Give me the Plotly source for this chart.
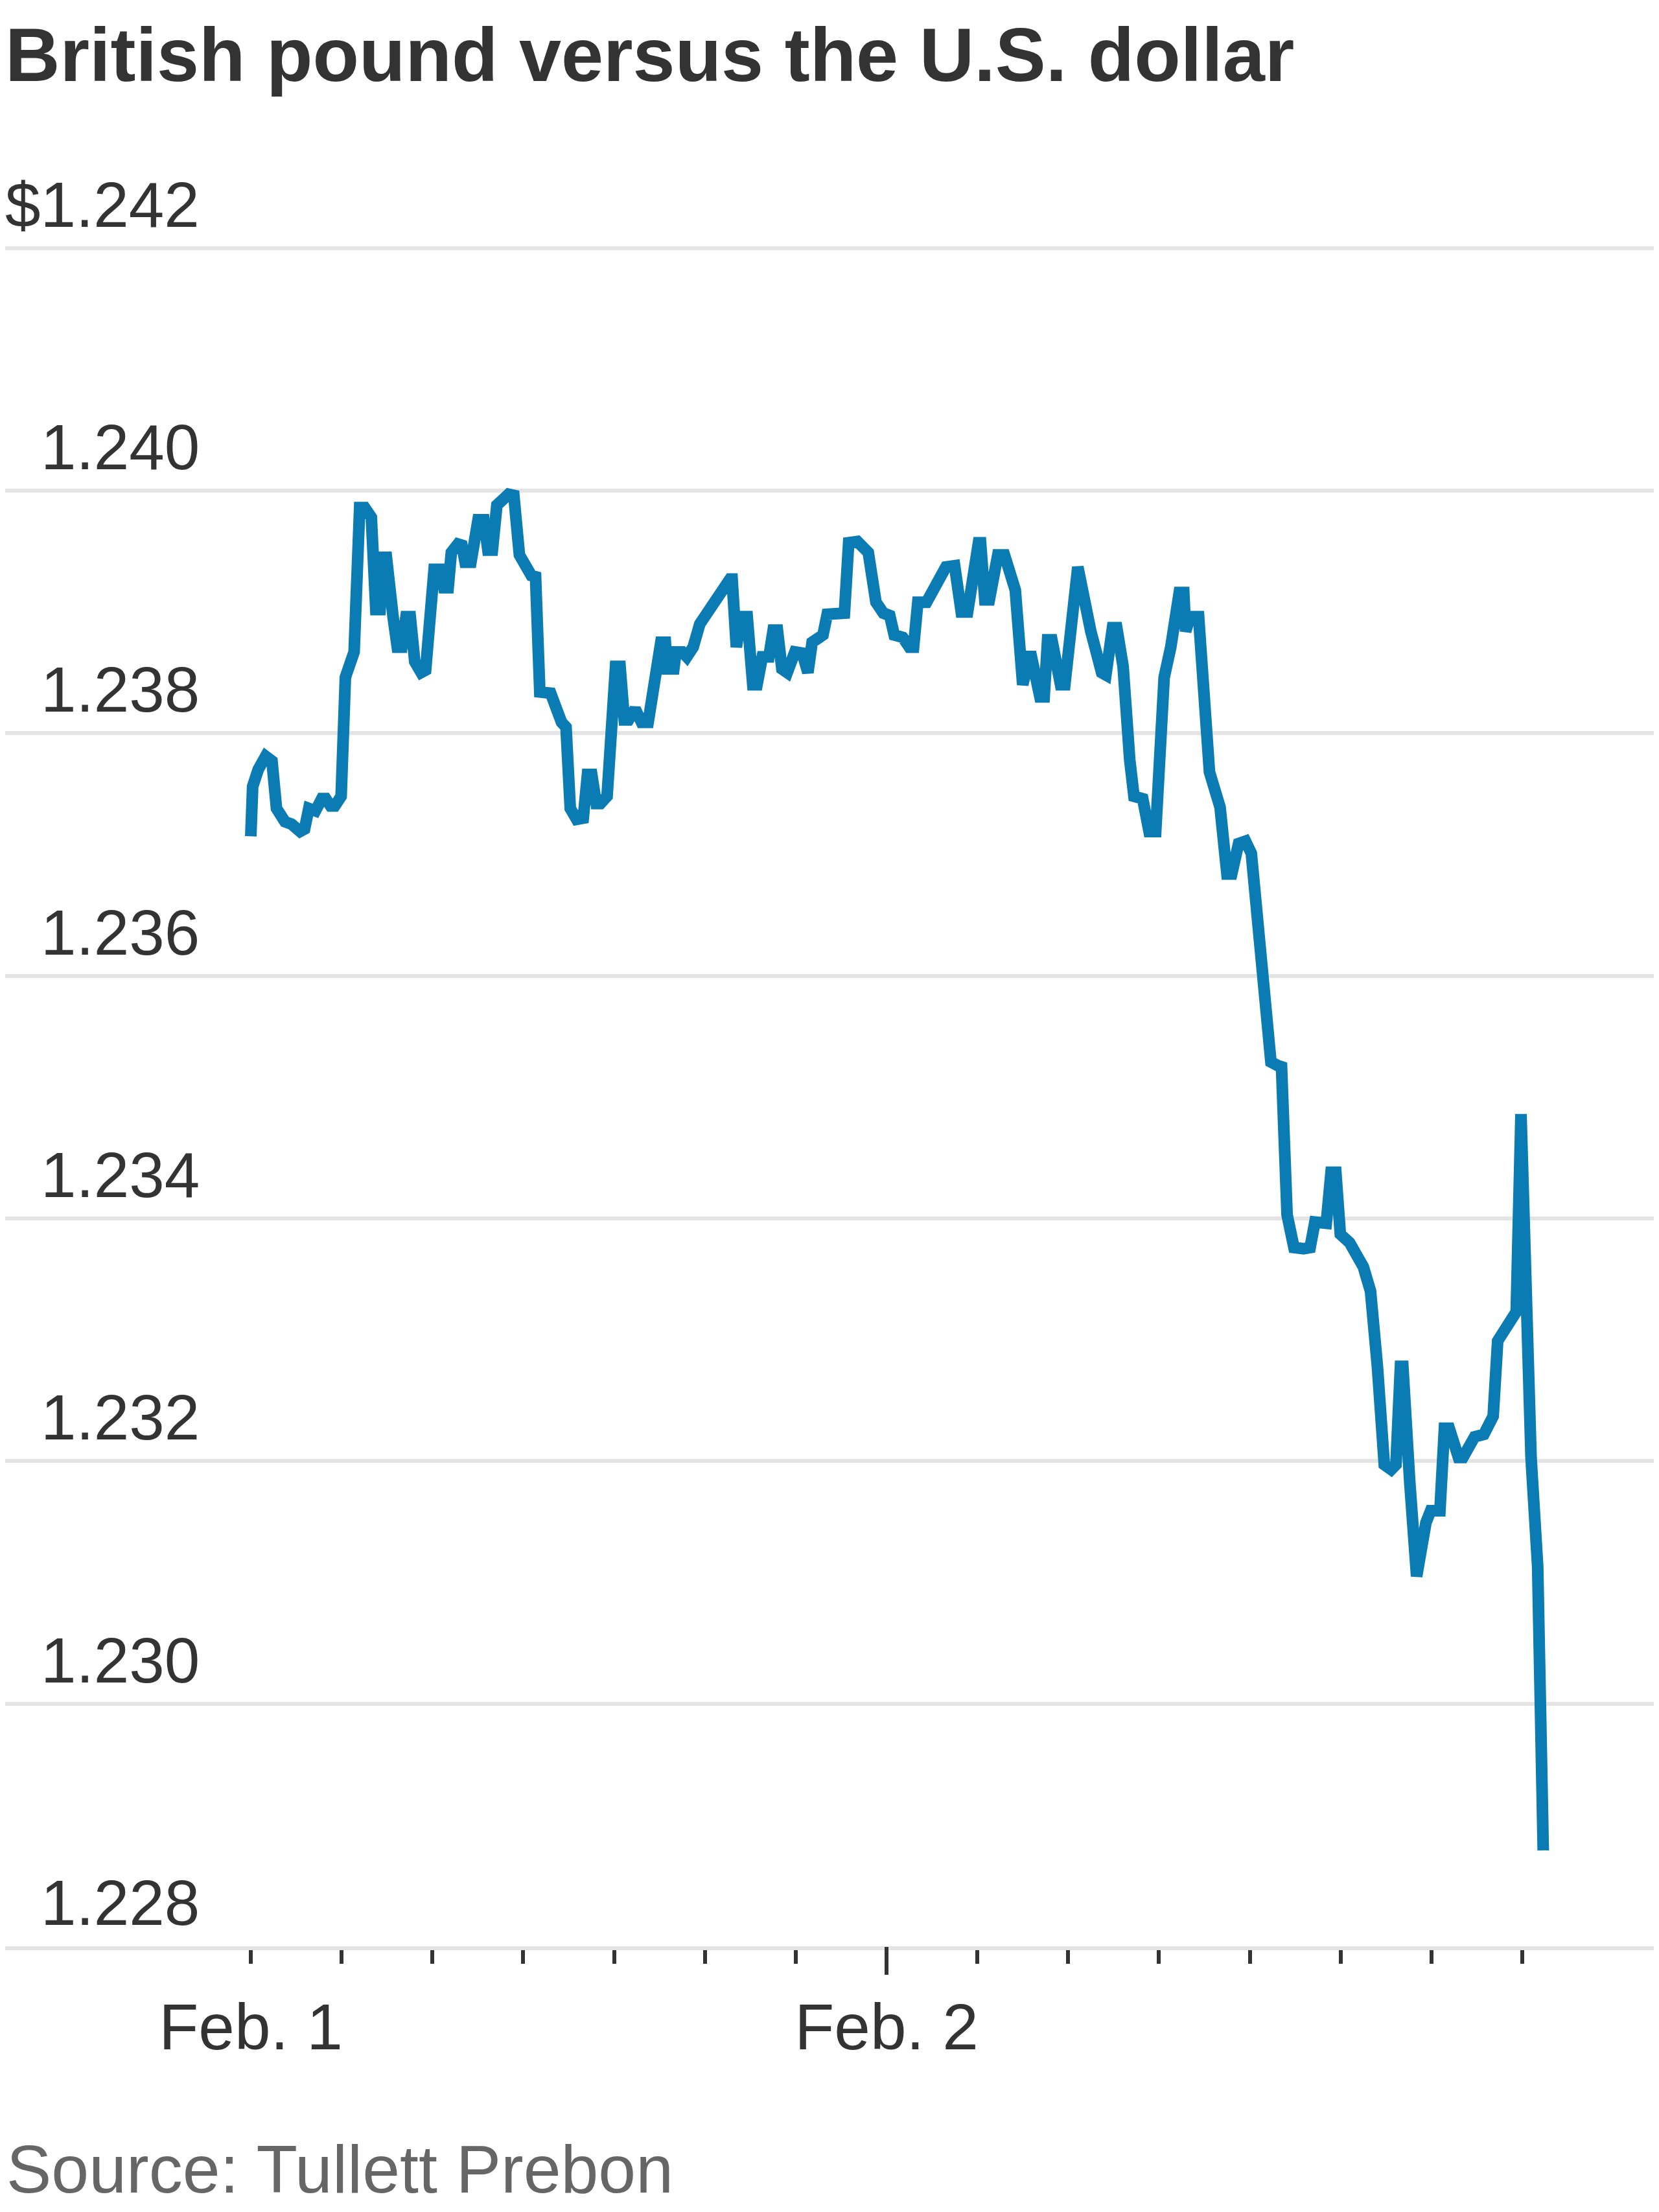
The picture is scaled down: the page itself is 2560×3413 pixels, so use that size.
import plotly.graph_objects as go

# Hours since Feb. 1, 00:00 (x) and GBP/USD rate (y)
hours = [0.00, 0.07, 0.28, 0.56, 0.80, 0.97, 1.29, 1.54, 1.86, 2.03,
         2.19, 2.44, 2.68, 2.83, 3.01, 3.17, 3.41, 3.57, 3.90, 4.11,
         4.30, 4.55, 4.72, 4.88, 4.96, 5.12, 5.37, 5.53, 5.70, 5.86,
         6.02, 6.19, 6.43, 6.60, 6.92, 7.17, 7.29, 7.45, 7.57, 7.82,
         7.97, 8.09, 8.31, 8.58, 8.80, 8.95, 9.12, 9.29, 9.49, 9.73,
         9.93, 10.14, 10.59, 10.75, 10.91, 11.16, 11.32, 11.73, 11.90, 12.06,
         12.30, 12.55, 12.71, 12.87, 13.04, 13.20, 13.45, 13.77, 13.94, 14.10,
         14.26, 14.51, 14.75, 15.00, 15.48, 15.65, 15.72, 15.97, 16.05, 16.29,
         16.46, 16.70, 16.95, 18.09, 18.17, 18.33, 18.50, 18.74, 18.95, 19.11,
         19.31, 19.56, 19.72, 19.88, 20.05, 20.25, 20.54, 20.82, 21.03, 21.19,
         21.48, 21.60, 21.76, 22.17, 22.41, 22.57, 22.90, 23.31, 23.60, 23.88,
         24.12, 24.29, 24.61, 24.86, 25.02, 25.18, 25.51, 26.24, 26.57, 26.82,
         27.06, 27.47, 27.55, 27.71, 27.88, 28.20, 28.45, 28.86, 29.14, 29.43,
         29.79, 29.95, 30.08, 30.24, 30.57, 30.73, 31.14, 31.22, 31.71, 32.12,
         32.28, 32.53, 32.69, 32.93, 33.18, 33.34, 33.67, 33.91, 34.16, 34.48,
         34.73, 35.05, 35.22, 35.29, 35.46, 35.78, 36.19, 36.59, 36.85, 37.03,
         37.29, 37.55, 37.77, 38.16, 38.51, 38.77, 38.91, 39.12, 39.38, 39.74,
         39.99, 40.17, 40.43, 40.60, 40.78, 40.96, 41.13, 41.48, 42.00, 42.27,
         42.53, 42.79, 43.05, 43.23, 43.40, 43.49, 43.75, 44.01, 44.36, 44.54,
         44.89, 45.06, 45.24, 45.59, 45.76, 46.20, 46.55, 46.90, 47.07, 47.42,
         47.77, 47.95, 48.33, 48.58, 48.79]

rate = [1.23715, 1.23756, 1.23770, 1.23781, 1.23777, 1.23738, 1.23727, 1.23725, 1.23719, 1.23721,
        1.23738, 1.23736, 1.23746, 1.23746, 1.23740, 1.23740, 1.23748, 1.23846, 1.23867, 1.23986,
        1.23986, 1.23978, 1.23902, 1.23902, 1.23945, 1.23945, 1.23896, 1.23871, 1.23871, 1.23896,
        1.23896, 1.23859, 1.23850, 1.23852, 1.23935, 1.23935, 1.23920, 1.23920, 1.23949, 1.23956,
        1.23955, 1.23941, 1.23941, 1.23976, 1.23976, 1.23951, 1.23951, 1.23988, 1.23992, 1.23997,
        1.23996, 1.23947, 1.23930, 1.23929, 1.23834, 1.23833, 1.23833, 1.23809, 1.23805, 1.23738,
        1.23729, 1.23730, 1.23766, 1.23766, 1.23742, 1.23742, 1.23748, 1.23855, 1.23855, 1.23811,
        1.23811, 1.23820, 1.23809, 1.23809, 1.23875, 1.23875, 1.23853, 1.23853, 1.23867, 1.23867,
        1.23863, 1.23871, 1.23890, 1.23927, 1.23927, 1.23871, 1.23896, 1.23896, 1.23840, 1.23840,
        1.23863, 1.23863, 1.23885, 1.23885, 1.23853, 1.23850, 1.23867, 1.23866, 1.23850, 1.23875,
        1.23879, 1.23881, 1.23898, 1.23898, 1.23899, 1.23957, 1.23958, 1.23949, 1.23908, 1.23899,
        1.23897, 1.23881, 1.23879, 1.23871, 1.23871, 1.23908, 1.23908, 1.23937, 1.23938, 1.23900,
        1.23900, 1.23957, 1.23957, 1.23910, 1.23910, 1.23947, 1.23947, 1.23918, 1.23840, 1.23867,
        1.23830, 1.23830, 1.23877, 1.23877, 1.23840, 1.23840, 1.23937, 1.23937, 1.23884, 1.23850,
        1.23848, 1.23887, 1.23887, 1.23855, 1.23778, 1.23748, 1.23746, 1.23719, 1.23719, 1.23846,
        1.23871, 1.23916, 1.23916, 1.23884, 1.23896, 1.23896, 1.23768, 1.23739, 1.23684, 1.23684,
        1.23709, 1.23711, 1.23701, 1.23613, 1.23529, 1.23526, 1.23525, 1.23403, 1.23376, 1.23375,
        1.23376, 1.23397, 1.23396, 1.23396, 1.23438, 1.23438, 1.23387, 1.23380, 1.23360, 1.23340,
        1.23278, 1.23197, 1.23193, 1.23197, 1.23278, 1.23278, 1.23183, 1.23105, 1.23149, 1.23159,
        1.23159, 1.23227, 1.23227, 1.23203, 1.23203, 1.23220, 1.23222, 1.23237, 1.23299, 1.23312,
        1.23323, 1.23486, 1.23203, 1.23113, 1.22879]

y_ticks = [1.228, 1.230, 1.232, 1.234, 1.236, 1.238, 1.240, 1.242]
y_labels = ["1.228", "1.230", "1.232", "1.234", "1.236", "1.238", "1.240", "$1.242"]

x_tick_hours = [0, 24 / 7, 48 / 7, 72 / 7, 96 / 7, 120 / 7, 144 / 7, 24,
                192 / 7, 216 / 7, 240 / 7, 264 / 7, 288 / 7, 312 / 7, 48]
x_tick_text = ["Feb. 1", "", "", "", "", "", "", "Feb. 2",
               "", "", "", "", "", "", ""]
day_boundary = [24]

TITLE = "British pound versus the U.S. dollar"
SOURCE = "Source: Tullett Prebon"

# page body keeps a default 8px margin, so the figure is 8px smaller
W, H = 2552, 3405
PLOT_TOP, PLOT_BOTTOM = 369, 2995
Y_RANGE = [1.228, 1.24203]   # tiny headroom so the top gridline is drawn
FONT = "Liberation Sans, Arial, sans-serif"
LINE = "#0b7bb3"
GRID = "#e4e4e4"
TEXT = "#333333"
LABEL_SIZE = 100

fig = go.Figure()
fig.add_trace(go.Scatter(x=hours, y=rate, mode="lines",
                         line=dict(color=LINE, width=18),
                         hoverinfo="skip", showlegend=False))
fig.add_trace(go.Scatter(x=[], y=[], xaxis="x2", showlegend=False,
                         hoverinfo="skip"))

xr = [-9.272, 53.16]
fig.update_layout(
    width=W, height=H,
    margin=dict(l=0, r=0, t=PLOT_TOP, b=H - PLOT_BOTTOM, pad=0),
    paper_bgcolor="white", plot_bgcolor="white",
    title=dict(text=TITLE, x=0, xanchor="left", xref="container",
               y=1 - 35 / H, yanchor="top", yref="container",
               font=dict(family=FONT, size=117, color=TEXT, weight="bold")),
    xaxis=dict(range=xr, tickmode="array", tickvals=x_tick_hours,
               ticktext=x_tick_text, ticks="outside", ticklen=21,
               tickwidth=6, tickcolor=TEXT, showgrid=False, zeroline=False,
               showline=True, linecolor=GRID, linewidth=6,
               tickfont=dict(family=FONT, size=LABEL_SIZE, color=TEXT),
               ticklabelstandoff=12),
    xaxis2=dict(range=xr, overlaying="x", anchor="y", side="bottom",
                tickmode="array", tickvals=day_boundary, ticks="outside",
                ticklen=43, tickwidth=6, tickcolor=TEXT,
                showticklabels=False, showgrid=False, zeroline=False,
                showline=False),
    yaxis=dict(range=Y_RANGE, tickmode="array", tickvals=y_ticks,
               showticklabels=False, showgrid=True, gridcolor=GRID,
               gridwidth=6, zeroline=False, showline=False, ticks=""),
)

for v, lab in zip(y_ticks, y_labels):
    fig.add_annotation(x=302 / W, xref="paper", xanchor="right",
                       y=v, yref="y", yanchor="bottom", yshift=10,
                       text=lab, showarrow=False,
                       font=dict(family=FONT, size=98, color=TEXT))

fig.add_annotation(x=0, xref="paper", xanchor="left",
                   y=-(3279 - PLOT_BOTTOM) / (PLOT_BOTTOM - PLOT_TOP),
                   yref="paper", yanchor="top", text=SOURCE, showarrow=False,
                   font=dict(family=FONT, size=104, color="#666666"))

fig.write_html("out.html")
